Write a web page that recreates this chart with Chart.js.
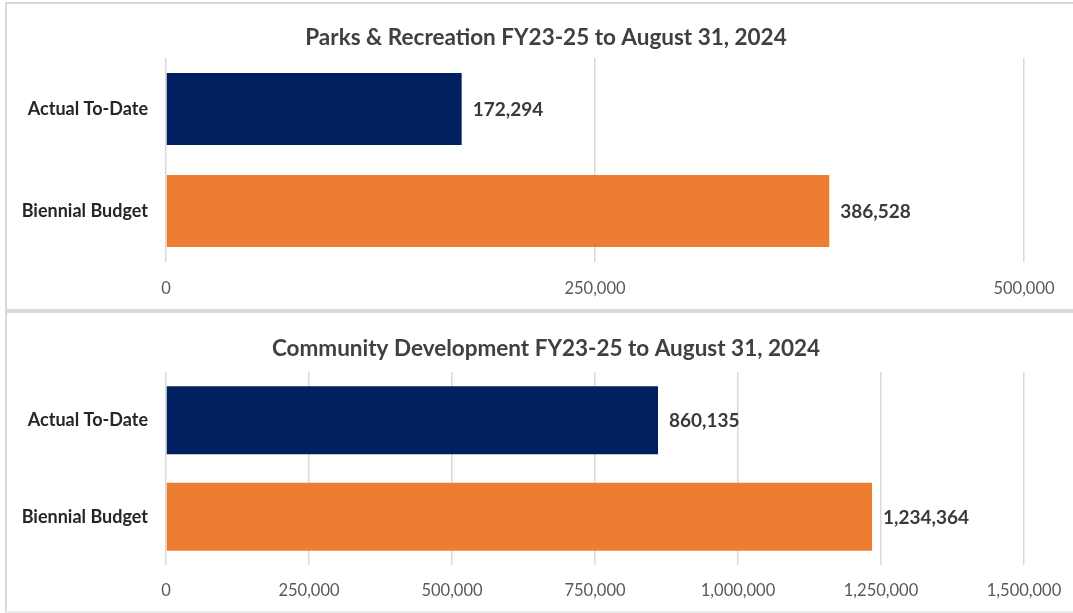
<!DOCTYPE html>
<html>
<head>
<meta charset="utf-8">
<script src="https://cdn.jsdelivr.net/npm/chart.js@4"></script>
<style>
  body { margin: 0; background: #fff; overflow: hidden; }
  .panel { position: absolute; left: 5px; width: 1082px; border: 2px solid #d9d9d9; box-sizing: border-box; background: #fff; }
  #p1 { top: 2px; height: 309px; }
  #p2 { top: 311px; height: 302px; border-bottom-color: #ececec; }
  canvas { display: block; }
</style>
</head>
<body>
<div class="panel" id="p1"><canvas id="parks" width="1078" height="305"></canvas></div>
<div class="panel" id="p2"><canvas id="dev" width="1078" height="298"></canvas></div>
<script>
const categories = ["Actual To-Date", "Biennial Budget"];
const barColors = ["#002060", "#ED7D31"];

const parksTitle = "Parks & Recreation FY23-25 to August 31, 2024";
const parksValues = [172294, 386528];
const parksMax = 500000;
const parksStep = 250000;

const devTitle = "Community Development FY23-25 to August 31, 2024";
const devValues = [860135, 1234364];
const devMax = 1500000;
const devStep = 250000;

const fontFamily = "Lato, 'Open Sans', sans-serif";

// draws the value next to the end of each bar
const valueLabels = {
  id: "valueLabels",
  afterDatasetsDraw(chart) {
    const ctx = chart.ctx;
    const meta = chart.getDatasetMeta(0);
    const data = chart.data.datasets[0].data;
    ctx.save();
    ctx.font = "bold 19px " + fontFamily;
    ctx.fillStyle = "#3a3a3a";
    ctx.textAlign = "left";
    ctx.textBaseline = "middle";
    meta.data.forEach((bar, i) => {
      ctx.fillText(data[i].toLocaleString("en-US"), bar.x + 11, bar.y + 1);
    });
    ctx.restore();
  }
};

function makeChart(id, title, values, max, step, g) {
  return new Chart(document.getElementById(id), {
    type: "bar",
    data: {
      labels: categories,
      datasets: [{
        data: values,
        backgroundColor: barColors,
        borderWidth: 0,
        barPercentage: g.bar,
        categoryPercentage: 1
      }]
    },
    options: {
      indexAxis: "y",
      responsive: false,
      animation: false,
      layout: { padding: 0 },
      plugins: {
        legend: { display: false },
        tooltip: { enabled: false },
        title: {
          display: true,
          text: title,
          color: "#404040",
          font: { family: fontFamily, size: 22.5, weight: "bold" },
          padding: { top: g.titleTop, bottom: g.titleBottom }
        }
      },
      scales: {
        x: {
          min: 0,
          max: max,
          ticks: {
            stepSize: step,
            color: "#595959",
            font: { family: fontFamily, size: 16.5 },
            padding: g.tickPad,
            maxRotation: 0,
            callback: (v) => Number(v).toLocaleString("en-US")
          },
          grid: { color: "#d9d9d9", lineWidth: 1.5, drawTicks: false },
          border: { display: false },
          afterFit: (scale) => { scale.height = g.xHeight; }
        },
        y: {
          ticks: {
            color: "#262626",
            font: { family: fontFamily, size: 18, weight: "bold" },
            padding: 10
          },
          grid: { display: false },
          border: { display: false },
          afterFit: (scale) => { scale.width = 159; }
        },
        // empty margin on the right so the title centres on the whole panel
        yRight: {
          type: "linear",
          position: "right",
          ticks: { display: false },
          grid: { display: false },
          border: { display: false },
          afterFit: (scale) => { scale.width = 61; }
        }
      }
    },
    plugins: [valueLabels]
  });
}

makeChart("parks", parksTitle, parksValues, parksMax, parksStep,
  { bar: 0.705, titleTop: 20, titleBottom: 7, xHeight: 47, tickPad: 17 });
makeChart("dev", devTitle, devValues, devMax, devStep,
  { bar: 0.705, titleTop: 22, titleBottom: 10, xHeight: 46, tickPad: 16 });
</script>
</body>
</html>
